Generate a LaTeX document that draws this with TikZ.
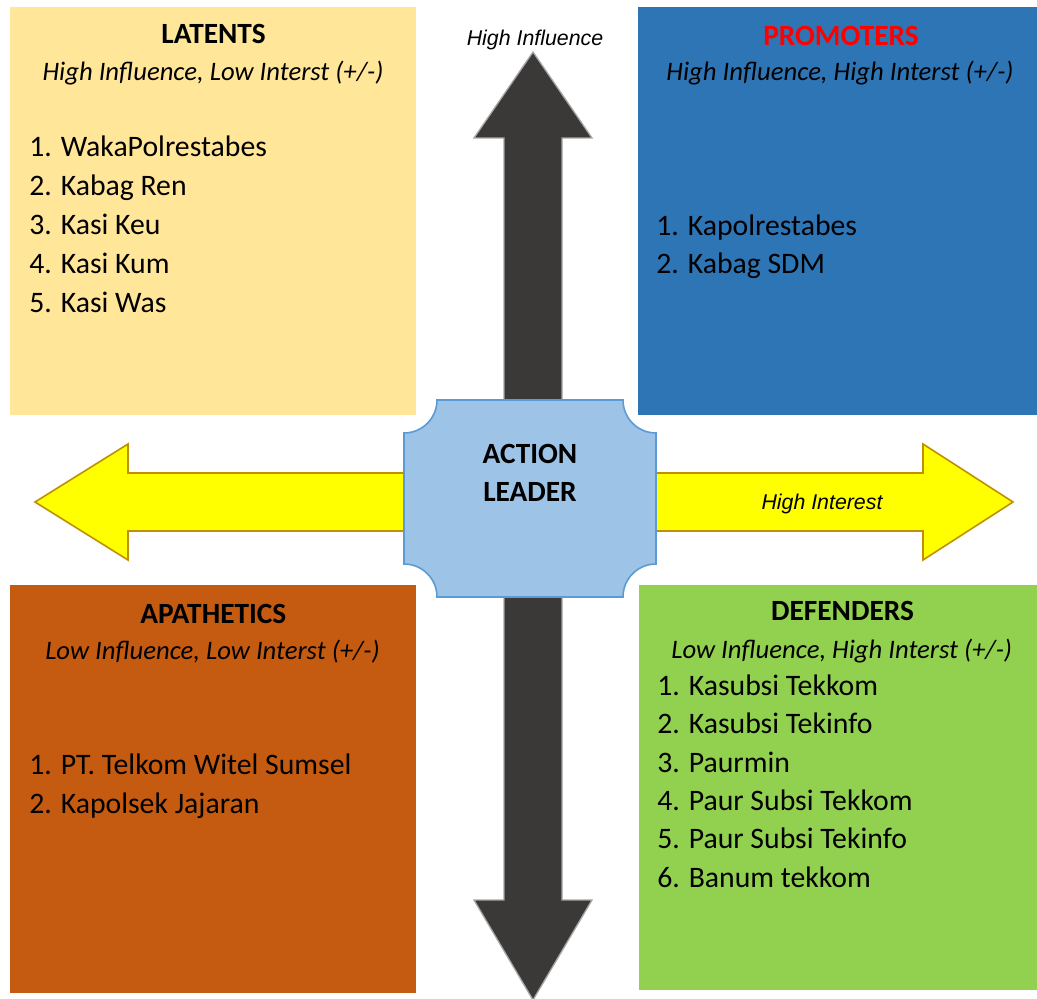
\documentclass[tikz,border=0pt]{standalone}
\usepackage{fontspec}
\setmainfont{Carlito}
\newfontfamily\arialfont{Liberation Sans}
\definecolor{latfill}{HTML}{FFE699}
\definecolor{profill}{HTML}{2E75B6}
\definecolor{apafill}{HTML}{C55A11}
\definecolor{deffill}{HTML}{92D050}
\definecolor{yelfill}{HTML}{FFFF00}
\definecolor{yelline}{HTML}{BF9000}
\definecolor{darkfill}{HTML}{3B3838}
\definecolor{darkline}{HTML}{A6A6A6}
\definecolor{plaqfill}{HTML}{9DC3E6}
\definecolor{plaqline}{HTML}{5B9BD5}
\begin{document}
\begin{tikzpicture}[x=0.75pt,y=-0.75pt,
  quad/.style={draw=none, inner sep=0, anchor=north west},
  ttl/.style={anchor=base, inner sep=0, font=\fontsize{22}{26}\selectfont\bfseries},
  sub/.style={anchor=base, inner sep=0, font=\fontsize{20}{24}\selectfont\itshape},
  item/.style={anchor=base west, inner sep=0, font=\fontsize{22.3}{26}\selectfont},
  axislbl/.style={anchor=base, inner sep=0, font=\arialfont\fontsize{16}{19}\selectfont\itshape},
  darkarrow/.style={fill=darkfill, draw=darkline, line width=1pt, line join=miter},
  yelarrow/.style={fill=yelfill, draw=yelline, line width=1.2pt, line join=miter},
  plaque/.style={fill=plaqfill, draw=plaqline, line width=1.2pt}
]
\useasboundingbox (0,0) rectangle (1037,998);

% quadrant boxes
\node[quad, fill=latfill, minimum width=304.5pt, minimum height=306pt] (latents) at (10,7) {};
\node[quad, fill=profill, minimum width=299.25pt, minimum height=306pt] (promoters) at (638,7) {};
\node[quad, fill=apafill, minimum width=304.5pt, minimum height=306pt] (apathetics) at (10,585) {};
\node[quad, fill=deffill, minimum width=298.5pt, minimum height=303.75pt] (defenders) at (639,585) {};

% vertical double arrow
\draw[darkarrow] (533,52) -- (592,138) -- (562,138) -- (562,900) -- (592,900)
  -- (533,1000) -- (474,900) -- (504,900) -- (504,138) -- (474,138) -- cycle;

% horizontal double arrow
\draw[yelarrow] (35,502) -- (128,444) -- (128,473) -- (923,473) -- (923,444)
  -- (1013,502) -- (923,560) -- (923,531) -- (128,531) -- (128,560) -- cycle;

% central plaque
\draw[plaque] (437,400) -- (623,400)
  arc[start angle=180, end angle=270, radius=24.75pt] -- (656,564)
  arc[start angle=90, end angle=180, radius=24.75pt] -- (437,597)
  arc[start angle=0, end angle=90, radius=24.75pt] -- (404,433)
  arc[start angle=-90, end angle=0, radius=24.75pt] -- cycle;
\node[ttl] (action) at (530,463.5) {ACTION};
\node[ttl] (leader) at (530,501.5) {LEADER};

% axis labels
\node[axislbl] (hinfl) at (535,45.5) {High Influence};
\node[axislbl] (hint) at (822,509.5) {High Interest};

% Latents
\node[ttl] (latT) at (213.5,44) {LATENTS};
\node[sub] (latS) at (213,81) {High Influence, Low Interst (+/-)};
\foreach \t [count=\i] in {WakaPolrestabes, Kabag Ren, Kasi Keu, Kasi Kum, Kasi Was}
  \node[item] (lat\i) at (29,{157+38.8*(\i-1)}) {\i. \t};

% Promoters
\node[ttl, text=red] (proT) at (841,45.5) {PROMOTERS};
\node[sub] (proS) at (840,81) {High Influence, High Interst (+/-)};
\foreach \t [count=\i] in {Kapolrestabes, Kabag SDM}
  \node[item] (pro\i) at (656,{235.3+38.5*(\i-1)}) {\i. \t};

% Apathetics
\node[ttl] (apaT) at (213.3,623.8) {APATHETICS};
\node[sub] (apaS) at (212.5,659.8) {Low Influence, Low Interst (+/-)};
\foreach \t [count=\i] in {PT. Telkom Witel Sumsel, Kapolsek Jajaran}
  \node[item] (apa\i) at (29,{774.8+38.4*(\i-1)}) {\i. \t};

% Defenders
\node[ttl] (defT) at (842.5,620.5) {DEFENDERS};
\node[sub] (defS) at (841.7,658.2) {Low Influence, High Interst (+/-)};
\foreach \t [count=\i] in {Kasubsi Tekkom, Kasubsi Tekinfo, Paurmin, Paur Subsi Tekkom, Paur Subsi Tekinfo, Banum tekkom}
  \node[item] (def\i) at (657,{695.5+38.35*(\i-1)}) {\i. \t};
\end{tikzpicture}
\end{document}
